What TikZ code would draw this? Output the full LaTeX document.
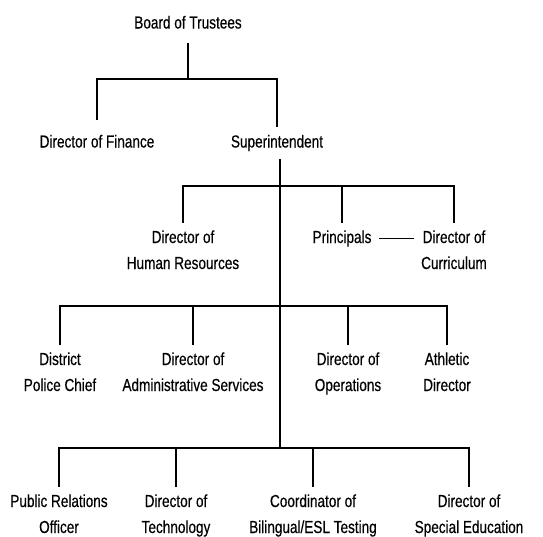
\documentclass[tikz,border=0pt]{standalone}
\usepackage{fontspec}
\setmainfont{Liberation Sans}[FakeStretch=0.78,FakeBold=0.4]
\usepackage{tikz}
\newcommand{\post}[2]{#1\\#2}

\begin{document}
\begin{tikzpicture}[x=0.5pt,y=-0.5pt,line width=0.65pt,
                    every node/.style={font=\fontsize{8.7}{13}\selectfont,
                                       align=center,inner sep=3.5pt,
                                       execute at begin node=\vphantom{Hy},
                                       execute at end node=\vphantom{Hy}}]
 \useasboundingbox (0,0) rectangle (543,537);

 % top of the chart
 \draw (188,24)  node[inner ysep=5pt] (bot)  {Board of Trustees};
 \draw (97,143)  node[inner ysep=7pt] (fin)  {Director of Finance};
 \draw (277,143) node (sup)  {Superintendent};

 \coordinate (j0) at (188,79);
 \coordinate (ja) at (280,186);
 \coordinate (jb) at (280,306);
 \coordinate (jc) at (280,448);

 % second row
 \draw (183,251.5) node (hr)   {\post{Director of}{Human Resources}};
 \draw (342,238.5) node (prin) {Principals};
 \draw (454,251.5) node (cur)  {\post{Director of}{Curriculum}};

 % third row
 \draw (60,373.5)  node (pol)  {\post{District}{Police Chief}};
 \draw (193,373.5) node (adm)  {\post{Director of}{Administrative Services}};
 \draw (348,373.5) node (ops)  {\post{Director of}{Operations}};
 \draw (447,373.5) node (ath)  {\post{Athletic}{Director}};

 % bottom row
 \draw (59,515.5)  node (pr)   {\post{Public Relations}{Officer}};
 \draw (176,515.5) node (tech) {\post{Director of}{Technology}};
 \draw (313,515.5) node (esl)  {\post{Coordinator of}{Bilingual/ESL Testing}};
 \draw (469,515.5) node (sped) {\post{Director of}{Special Education}};

 % connectors
 \draw (bot.south) -- (j0);
 \draw (fin.north) |- (sup.north |- j0) -- (sup.north);

 \draw (ja |- sup.south) -- (jc);

 \draw (hr.north) |- (cur.north |- ja) -- (cur.north);
 \draw (prin.north) -- (prin.north |- ja);
 \draw (prin.east) -- (prin.east -| cur.west);

 \draw (pol.north) |- (ath.north |- jb) -- (ath.north);
 \draw (adm.north) -- (adm.north |- jb);
 \draw (ops.north) -- (ops.north |- jb);

 \draw (pr.north) |- (sped.north |- jc) -- (sped.north);
 \draw (tech.north) -- (tech.north |- jc);
 \draw (esl.north) -- (esl.north |- jc);

\end{tikzpicture}
\end{document}
